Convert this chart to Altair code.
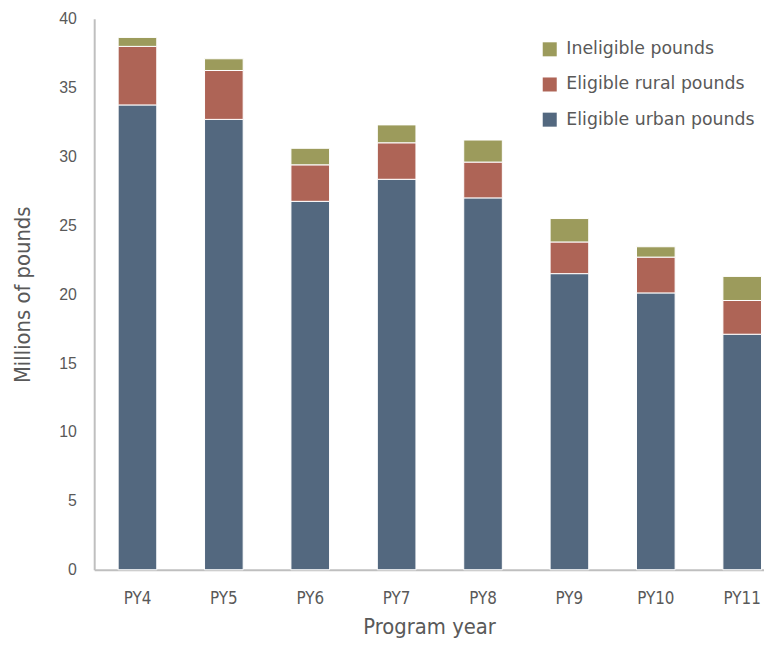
import altair as alt
import pandas as pd

years = ["PY4", "PY5", "PY6", "PY7", "PY8", "PY9", "PY10", "PY11"]
urban = [33.75, 32.7, 26.75, 28.35, 27.0, 21.5, 20.1, 17.1]
rural = [4.25, 3.55, 2.65, 2.65, 2.6, 2.3, 2.6, 2.45]
ineligible = [0.65, 0.85, 1.2, 1.3, 1.6, 1.7, 0.75, 1.75]

series = ["Ineligible pounds", "Eligible rural pounds", "Eligible urban pounds"]
colors = ["#9c9b5c", "#ae6456", "#53687f"]

rows = []
for i, y in enumerate(years):
    rows.append({"year": y, "series": "Eligible urban pounds", "value": urban[i], "ord": 0})
    rows.append({"year": y, "series": "Eligible rural pounds", "value": rural[i], "ord": 1})
    rows.append({"year": y, "series": "Ineligible pounds", "value": ineligible[i], "ord": 2})
df = pd.DataFrame(rows)

cond = "DejaVu Sans Condensed, Liberation Sans, sans-serif"

chart = alt.Chart(df).mark_bar(stroke="white", strokeWidth=1).encode(
    x=alt.X("year:N", sort=years, title="Program year",
            scale=alt.Scale(paddingInner=0.553, paddingOuter=0.153, align=0.906),
            axis=alt.Axis(labelAngle=0, ticks=False, domainColor="#bfbfbf", domainWidth=2,
                          labelFont=cond, labelFontSize=17, labelColor="#595959",
                          labelPadding=21, titleFont=cond, titleFontSize=22,
                          titleFontWeight="normal", titleColor="#595959", titlePadding=10)),
    y=alt.Y("value:Q", stack="zero", title="Millions of pounds",
            scale=alt.Scale(domain=[0, 40], nice=False),
            axis=alt.Axis(values=[0, 5, 10, 15, 20, 25, 30, 35, 40], grid=False, ticks=False,
                          domainColor="#bfbfbf", domainWidth=2,
                          labelFont="Liberation Sans", labelFontSize=16, labelColor="#595959",
                          labelPadding=18, titleFont=cond, titleFontSize=22,
                          titleFontWeight="normal", titleColor="#595959", titlePadding=25)),
    color=alt.Color("series:N", sort=series,
                    scale=alt.Scale(domain=series, range=colors),
                    legend=alt.Legend(title=None, orient="none", legendX=451, legendY=22,
                                      symbolType="square", symbolSize=200, symbolStrokeWidth=0,
                                      labelFont="DejaVu Sans", labelFontSize=17.5, labelColor="#595959",
                                      labelLimit=0, rowPadding=16.5, labelOffset=8)),
    order=alt.Order("ord:Q"),
).properties(
    width=676, height=556,
    autosize="none",
    padding={"left": 87, "top": 8, "right": 0, "bottom": 72},
).configure_view(stroke=None)

chart.save("out.html", embed_options={"renderer": "svg", "actions": False})
